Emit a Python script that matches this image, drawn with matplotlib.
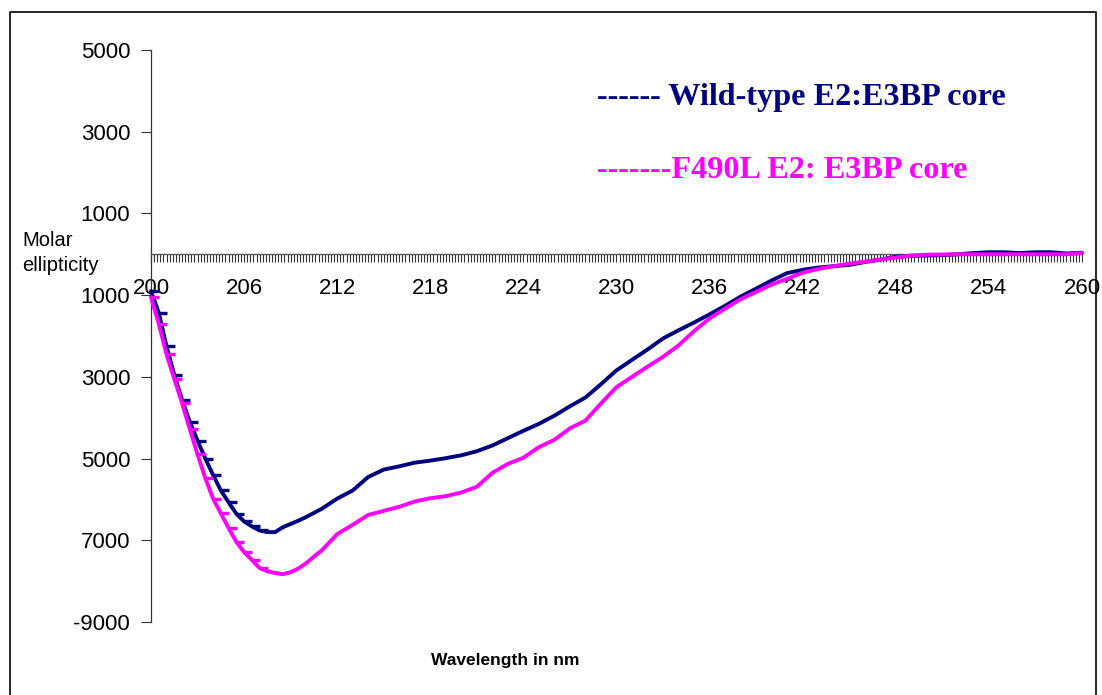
import matplotlib
matplotlib.use("Agg")
import matplotlib.pyplot as plt
from matplotlib.path import Path
from matplotlib.lines import Line2D
import numpy as np

# ---- data ----
wavelength = [200.0, 200.5, 201.0, 201.5, 202.0, 202.5, 203.0, 203.5, 204.0, 204.5,
              205.0, 205.5, 206.0, 206.5, 207.0, 207.5, 208.0, 208.5, 209.0, 209.5,
              210.0, 210.5, 211.0, 212.0, 213.0, 214.0, 215.0, 216.0, 217.0, 218.0,
              219.0, 220.0, 221.0, 222.0, 223.0, 224.0, 225.0, 226.0, 227.0, 228.0,
              229.0, 230.0, 231.0, 232.0, 233.0, 234.0, 235.0, 236.0, 237.0, 238.0,
              239.0, 240.0, 241.0, 242.0, 243.0, 244.0, 245.0, 246.0, 247.0, 248.0,
              249.0, 250.0, 251.0, 252.0, 253.0, 254.0, 255.0, 256.0, 257.0, 258.0,
              259.0, 260.0]

wild_type = [-900, -1430, -2250, -2950, -3560, -4100, -4560, -5000, -5400, -5780,
             -6070, -6350, -6540, -6660, -6760, -6800, -6800, -6680, -6600, -6520,
             -6430, -6330, -6230, -5980, -5780, -5450, -5270, -5190, -5100, -5050,
             -4990, -4920, -4820, -4680, -4500, -4320, -4150, -3950, -3720, -3505,
             -3180, -2840, -2585, -2330, -2060, -1860, -1670, -1470, -1260, -1035,
             -840, -640, -460, -380, -325, -290, -260, -190, -130, -60,
             -40, -30, -20, 0, 30, 50, 50, 30, 50, 50,
             20, 40]

f490l = [-1050, -1700, -2450, -3050, -3640, -4280, -4900, -5480, -5980, -6340,
         -6700, -7040, -7290, -7480, -7680, -7760, -7800, -7830, -7780, -7690,
         -7560, -7400, -7250, -6850, -6620, -6380, -6280, -6180, -6050, -5970,
         -5920, -5830, -5690, -5350, -5130, -4980, -4720, -4540, -4260, -4070,
         -3650, -3250, -3000, -2750, -2510, -2230, -1880, -1570, -1330, -1100,
         -920, -740, -600, -450, -360, -290, -230, -180, -130, -80,
         -30, -10, -5, 0, 0, 0, 0, 0, 0, 0,
         0, 30]

x_tick_values = [200, 206, 212, 218, 224, 230, 236, 242, 248, 254, 260]
y_tick_values = [5000, 3000, 1000, -1000, -3000, -5000, -7000, -9000]
y_tick_labels = ["5000", "3000", "1000", "1000", "3000", "5000", "7000", "-9000"]

series_labels = ["------ Wild-type E2:E3BP core", "-------F490L E2: E3BP core"]
series_colors = ["#000080", "#FF00FF"]

# ---- figure ----
W, H = 1102, 695
fig = plt.figure(figsize=(W / 100, H / 100), dpi=100)
fig.patch.set_facecolor("white")

left_px, right_px, top_px, bot_px = 151, 1082, 50, 622
ax = fig.add_axes([left_px / W, (H - bot_px) / H,
                   (right_px - left_px) / W, (bot_px - top_px) / H])
ax.set_xlim(200, 260)
ax.set_ylim(-9000, 5000)

dash = Path([(0, 0), (1, 0)], [Path.MOVETO, Path.LINETO])
steep_idx = [i for i, w in enumerate(wavelength) if w <= 207.0]
for vals, col in zip([wild_type, f490l], series_colors):
    ax.plot(wavelength, vals, color=col, lw=2.8, solid_joinstyle="round",
            solid_capstyle="round", clip_on=False, zorder=3)
    ax.plot(wavelength, vals, linestyle="none", marker=dash, markersize=11,
            markeredgewidth=2.4, markeredgecolor=col, markevery=steep_idx,
            clip_on=False, zorder=3)

# axes styling
for s in ["top", "right"]:
    ax.spines[s].set_visible(False)
ax.spines["bottom"].set_position(("data", 0))
ax.spines["bottom"].set_color("#555555")
ax.spines["bottom"].set_linewidth(1.0)
ax.spines["left"].set_color("#333333")
ax.spines["left"].set_linewidth(0.9)

ax.set_xticks(x_tick_values)
ax.set_xticklabels([str(v) for v in x_tick_values])
ax.set_xticks(np.arange(200, 260.01, 0.2), minor=True)
ax.tick_params(axis="x", which="both", direction="out", length=6, width=0.8,
               color="#333333", pad=11, labelsize=16)
ax.tick_params(axis="x", which="minor", labelbottom=False)

ax.set_yticks(y_tick_values)
ax.set_yticklabels(y_tick_labels)
ax.tick_params(axis="y", direction="out", length=7, width=0.8, color="#333333",
               pad=8, labelsize=16)
for lab in ax.get_xticklabels() + ax.get_yticklabels():
    lab.set_fontfamily("Liberation Sans")

# y axis title
fig.text(22 / W, 1 - 241 / H, "Molar", fontsize=14.5, family="Liberation Sans",
         ha="left", va="center")
fig.text(22 / W, 1 - 265 / H, "ellipticity", fontsize=14.5, family="Liberation Sans",
         ha="left", va="center")

# x axis title
fig.text(505 / W, 1 - 661 / H, "Wavelength in nm", fontsize=12.5, fontweight="bold",
         family="Liberation Sans", ha="center", va="center")

# in-chart legend text
fig.text(597 / W, 1 - 97 / H, series_labels[0], fontsize=23.2, fontweight="bold",
         family="Liberation Serif", color=series_colors[0], ha="left", va="center")
fig.text(597 / W, 1 - 171 / H, series_labels[1], fontsize=23.2, fontweight="bold",
         family="Liberation Serif", color=series_colors[1], ha="left", va="center")

# outer chart border
bx0, bx1, by0 = 10, 1096, 12
fig.add_artist(Line2D([bx0 / W, bx0 / W, bx1 / W, bx1 / W],
                      [0, 1 - by0 / H, 1 - by0 / H, 0],
                      transform=fig.transFigure, color="black", lw=1.2))

fig.savefig("out.png", dpi=100, facecolor="white")
